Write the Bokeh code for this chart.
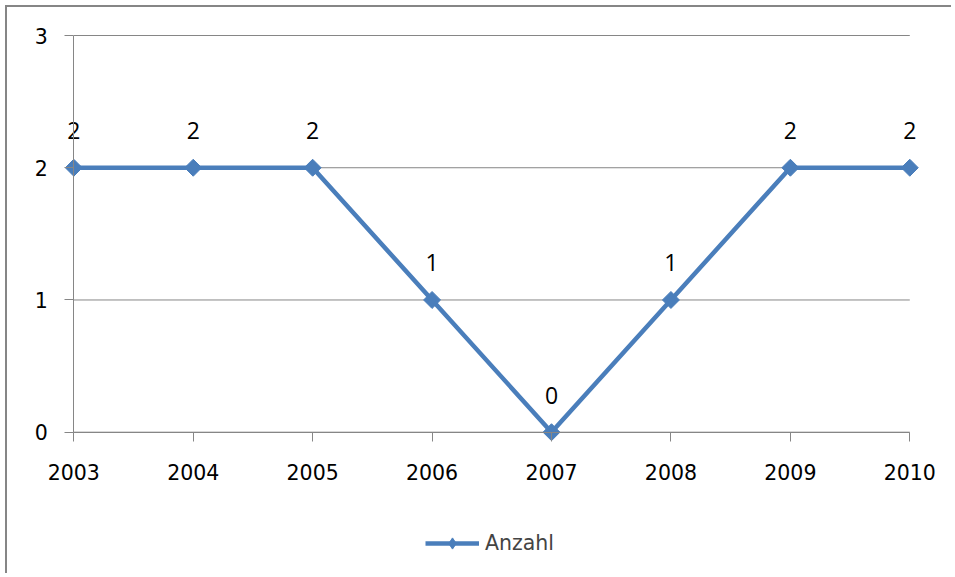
import math
from bokeh.plotting import figure
from bokeh.models import Range1d, FixedTicker, Legend, LegendItem, ColumnDataSource, LinearAxis
from bokeh.core.properties import value
from bokeh.embed import file_html
from bokeh.resources import INLINE

years = [2003, 2004, 2005, 2006, 2007, 2008, 2009, 2010]
anzahl = [2, 2, 2, 1, 0, 1, 2, 2]
labels = [str(v) for v in anzahl]
y_ticks = [0, 1, 2, 3]
series_name = "Anzahl"

FONT = "DejaVu Sans"
LABEL_FONT = "Open Sans"
BLUE = "#4A7EBB"
GRAY = "#868686"

W, H = 946, 568
p = figure(width=W, height=H, output_backend="svg", toolbar_location=None,
           x_range=Range1d(2002.4449, 2010.366), y_range=Range1d(-1.0837, 3.2118),
           x_axis_location=None, y_axis_location=None,
           min_border_left=0, min_border_right=0, min_border_top=0, min_border_bottom=0)
p.styles = {"margin-left": "5px", "margin-top": "5px",
            "border-left": f"2px solid {GRAY}", "border-top": f"2px solid {GRAY}"}
p.outline_line_color = None
p.background_fill_color = "white"
p.border_fill_color = "white"
p.grid.visible = False

# horizontal gridlines, spanning the category extent
p.segment(x0=years[0], x1=years[-1], y0=y_ticks, y1=y_ticks, line_color=GRAY, line_width=1)

src = ColumnDataSource(dict(x=years, y=anzahl, label=labels))
r_line = p.line("x", "y", source=src, line_color=BLUE, line_width=4.5)
r_pts = p.scatter("x", "y", source=src, marker="square", size=12, angle=math.pi / 4,
                  fill_color=BLUE, line_color=BLUE, line_width=1)
# inner diamond (hidden inside the rotated squares) used for the legend swatch
r_leg = p.scatter("x", "y", source=src, marker="diamond", size=13,
                  fill_color=BLUE, line_color=BLUE, line_width=1)
p.text("x", "y", text="label", source=src, y_offset=-37, text_align="center",
       text_baseline="middle", text_font=value(LABEL_FONT), text_font_size="23px",
       text_color="black")

xaxis = LinearAxis(ticker=FixedTicker(ticks=years), fixed_location=0,
                   bounds=(years[0], years[-1]))
yaxis = LinearAxis(ticker=FixedTicker(ticks=y_ticks), fixed_location=years[0],
                   bounds=(y_ticks[0], y_ticks[-1]))
for ax in (xaxis, yaxis):
    ax.axis_line_color = GRAY
    ax.major_tick_line_color = GRAY
    ax.minor_tick_line_color = None
    ax.major_tick_in = 0
    ax.major_tick_out = 9
    ax.major_label_text_font = FONT
    ax.major_label_text_font_size = "20.5px"
    ax.major_label_text_color = "black"
xaxis.major_label_standoff = 23
yaxis.major_label_standoff = 17
p.add_layout(xaxis, "below")
p.add_layout(yaxis, "left")

legend = Legend(items=[LegendItem(label=series_name, renderers=[r_line, r_leg])],
                location=(418, 18), orientation="horizontal",
                border_line_color=None, background_fill_alpha=0,
                padding=0, margin=0, glyph_width=54, glyph_height=28,
                label_text_font=FONT, label_text_font_size="20.5px", label_standoff=6)
p.add_layout(legend, "center")

open("out.html", "w").write(file_html(p, INLINE))
